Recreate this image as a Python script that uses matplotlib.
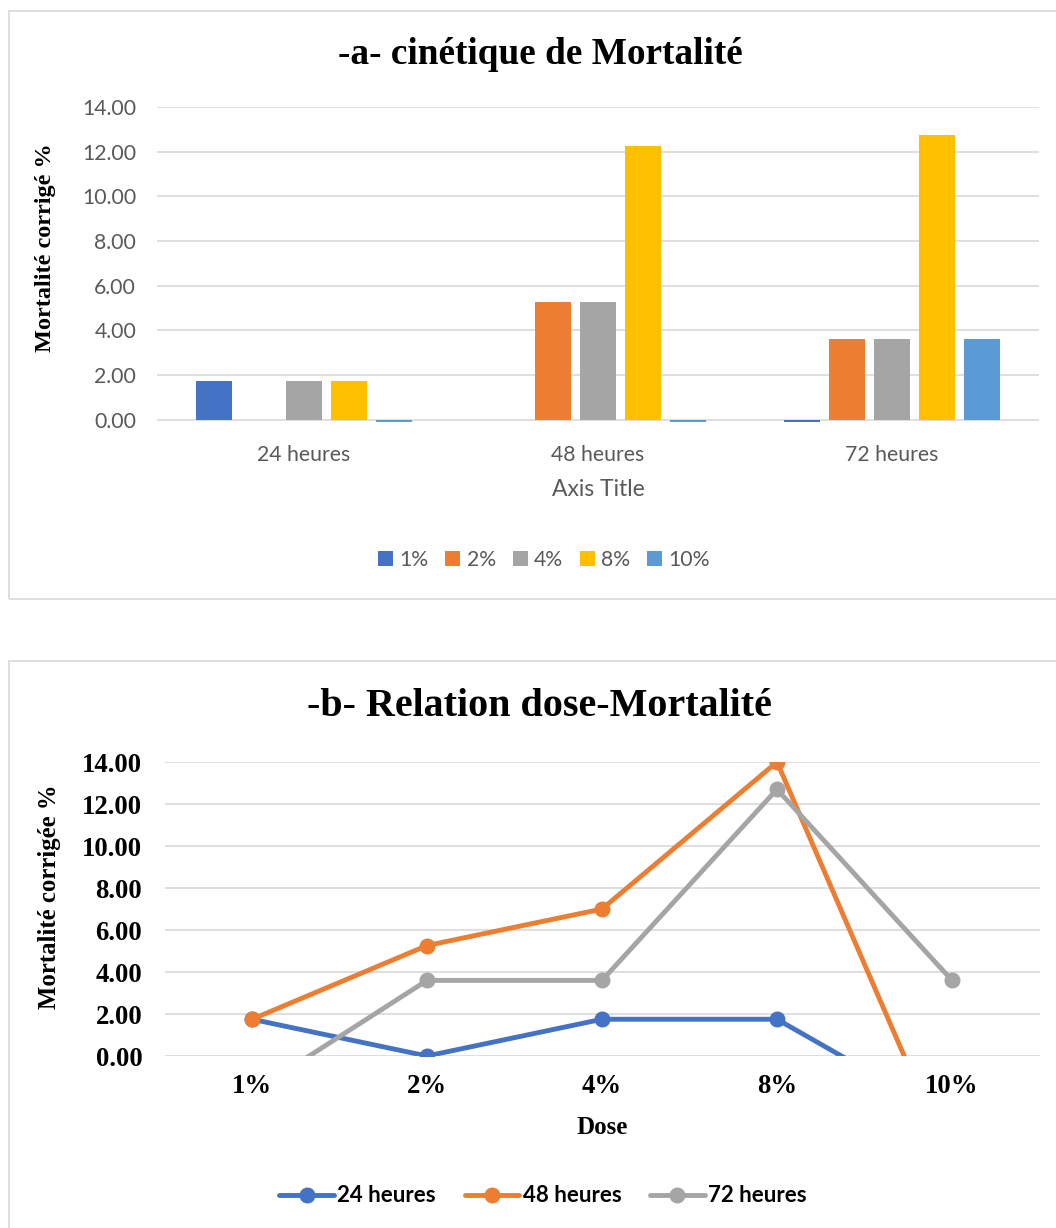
import matplotlib
matplotlib.use("Agg")
import matplotlib.pyplot as plt
from matplotlib.patches import Rectangle
import numpy as np

# ---- data -------------------------------------------------------------
periods = ["24 heures", "48 heures", "72 heures"]
doses = ["1%", "2%", "4%", "8%", "10%"]

# panel a: corrected mortality per dose, over the three exposure periods
dose_1 = [1.75, 0.00, -0.10]
dose_2 = [0.00, 5.26, 3.60]
dose_4 = [1.75, 5.26, 3.60]
dose_8 = [1.75, 12.26, 12.74]
dose_10 = [-0.10, -0.10, 3.60]

# panel b: corrected mortality per period, over the five doses
h24 = [1.75, 0.00, 1.75, 1.75, -3.00]
h48 = [1.75, 5.26, 7.00, 14.00, -5.26]
h72 = [-1.75, 3.60, 3.60, 12.70, 3.60]

y_ticks = [0, 2, 4, 6, 8, 10, 12, 14]

# ---- style ------------------------------------------------------------
W, H = 1056, 1228
SERIF = "Liberation Serif"
SANS = "Lato"
GRID = "#d9d9d9"
bar_colors = ["#4472C4", "#ED7D31", "#A5A5A5", "#FFC000", "#5B9BD5"]
line_colors = ["#4472C4", "#ED7D31", "#A5A5A5"]

fig = plt.figure(figsize=(W / 100, H / 100), dpi=100)


def rect(x0, y0, x1, y1):
    """Pixel box (top-left origin) -> figure fraction rectangle."""
    return [x0 / W, 1 - y1 / H, (x1 - x0) / W, (y1 - y0) / H]


def fx(x):
    return x / W


def fy(y):
    return 1 - y / H


# chart-area frames
for (x0, y0, x1, y1) in [(9, 11, 1070, 599), (9, 661, 1070, 1240)]:
    fig.patches.append(Rectangle((fx(x0), fy(y1)), fx(x1) - fx(x0), fy(y0) - fy(y1),
                                 transform=fig.transFigure, fill=False,
                                 edgecolor=GRID, linewidth=1.2))

# ---- panel a: clustered bars -----------------------------------------
ax1 = fig.add_axes(rect(157, 107, 1039, 423))
series_a = [dose_1, dose_2, dose_4, dose_8, dose_10]
x = np.arange(len(periods))
pitch, width = 0.153, 0.122
for i, (vals, c, lab) in enumerate(zip(series_a, bar_colors, doses)):
    ax1.bar(x + (i - 2) * pitch, vals, width, color=c, label=lab, zorder=3)
ax1.set_xlim(-0.5, len(periods) - 0.5)
ax1.set_ylim(-0.15, 14)
ax1.set_yticks(y_ticks)
ax1.set_yticklabels([f"{v:.2f}" for v in y_ticks], fontfamily=SANS, fontsize=15.3, color="#595959")
ax1.set_xticks(x)
ax1.set_xticklabels(periods, fontfamily=SANS, fontsize=15.3, color="#595959")
ax1.tick_params(axis="both", length=0)
ax1.tick_params(axis="y", pad=15)
ax1.tick_params(axis="x", pad=16)
ax1.grid(axis="y", color=GRID, linewidth=1.2, zorder=0)
for s in ax1.spines.values():
    s.set_visible(False)
ax1.set_xlabel("Axis Title", fontfamily=SANS, fontsize=16.5, color="#595959")
ax1.xaxis.set_label_coords(0.5, (423 - 490) / (423 - 107), transform=ax1.transAxes)
ax1.xaxis.label.set_va("center")
ax1.set_ylabel("Mortalité corrigé %", fontfamily=SERIF, fontweight="bold", fontsize=17.5)
ax1.yaxis.set_label_coords((46 - 157) / (1039 - 157), (423 - 248) / (423 - 107))
ax1.yaxis.label.set_va("center")
fig.text(fx(540), fy(55), "-a- cinétique de Mortalité", ha="center", va="center",
         fontfamily=SERIF, fontweight="bold", fontsize=26.8)
leg1 = ax1.legend(loc="center", bbox_to_anchor=(fx(544), fy(560)),
                  bbox_transform=fig.transFigure, ncol=5, frameon=False,
                  prop={"family": SANS, "size": 15.3}, handlelength=0.7, handleheight=0.7,
                  handletextpad=0.3, columnspacing=0.8)
for t in leg1.get_texts():
    t.set_color("#595959")

# ---- panel b: dose-response lines ------------------------------------
ax2 = fig.add_axes(rect(164.5, 762, 1039.5, 1056))
xd = np.arange(len(doses))
for vals, c, lab in zip([h24, h48, h72], line_colors, periods):
    ax2.plot(xd, vals, color=c, linewidth=3.5, marker="o", markersize=10.5,
             solid_capstyle="round", label=lab, zorder=3)
ax2.set_xlim(-0.5, len(doses) - 0.5)
ax2.set_ylim(0, 14)
ax2.set_yticks(y_ticks)
ax2.set_yticklabels([f"{v:.2f}" for v in y_ticks], fontfamily=SERIF, fontweight="bold", fontsize=19.3)
ax2.set_xticks(xd)
ax2.set_xticklabels(doses, fontfamily=SERIF, fontweight="bold", fontsize=19.3)
ax2.tick_params(axis="both", length=0)
ax2.tick_params(axis="y", pad=16)
ax2.tick_params(axis="x", pad=13)
ax2.grid(axis="y", color=GRID, linewidth=1.2, zorder=0)
for s in ax2.spines.values():
    s.set_visible(False)
ax2.set_xlabel("Dose", fontfamily=SERIF, fontweight="bold", fontsize=18)
ax2.xaxis.set_label_coords(0.5, (1056 - 1127) / (1056 - 762))
ax2.xaxis.label.set_va("center")
ax2.set_ylabel("Mortalité corrigée %", fontfamily=SERIF, fontweight="bold", fontsize=17.8)
ax2.yaxis.set_label_coords((50 - 164.5) / (1039.5 - 164.5), (1056 - 897) / (1056 - 762))
ax2.yaxis.label.set_va("center")
fig.text(fx(539), fy(707), "-b- Relation dose-Mortalité", ha="center", va="center",
         fontfamily=SERIF, fontweight="bold", fontsize=28.9)
ax2.legend(loc="center", bbox_to_anchor=(fx(543), fy(1196)),
           bbox_transform=fig.transFigure, ncol=3, frameon=False,
           prop={"family": SANS, "size": 16, "weight": "bold"}, handlelength=2.45,
           handletextpad=0.15, columnspacing=1.3)

fig.savefig("out.png", dpi=100)
